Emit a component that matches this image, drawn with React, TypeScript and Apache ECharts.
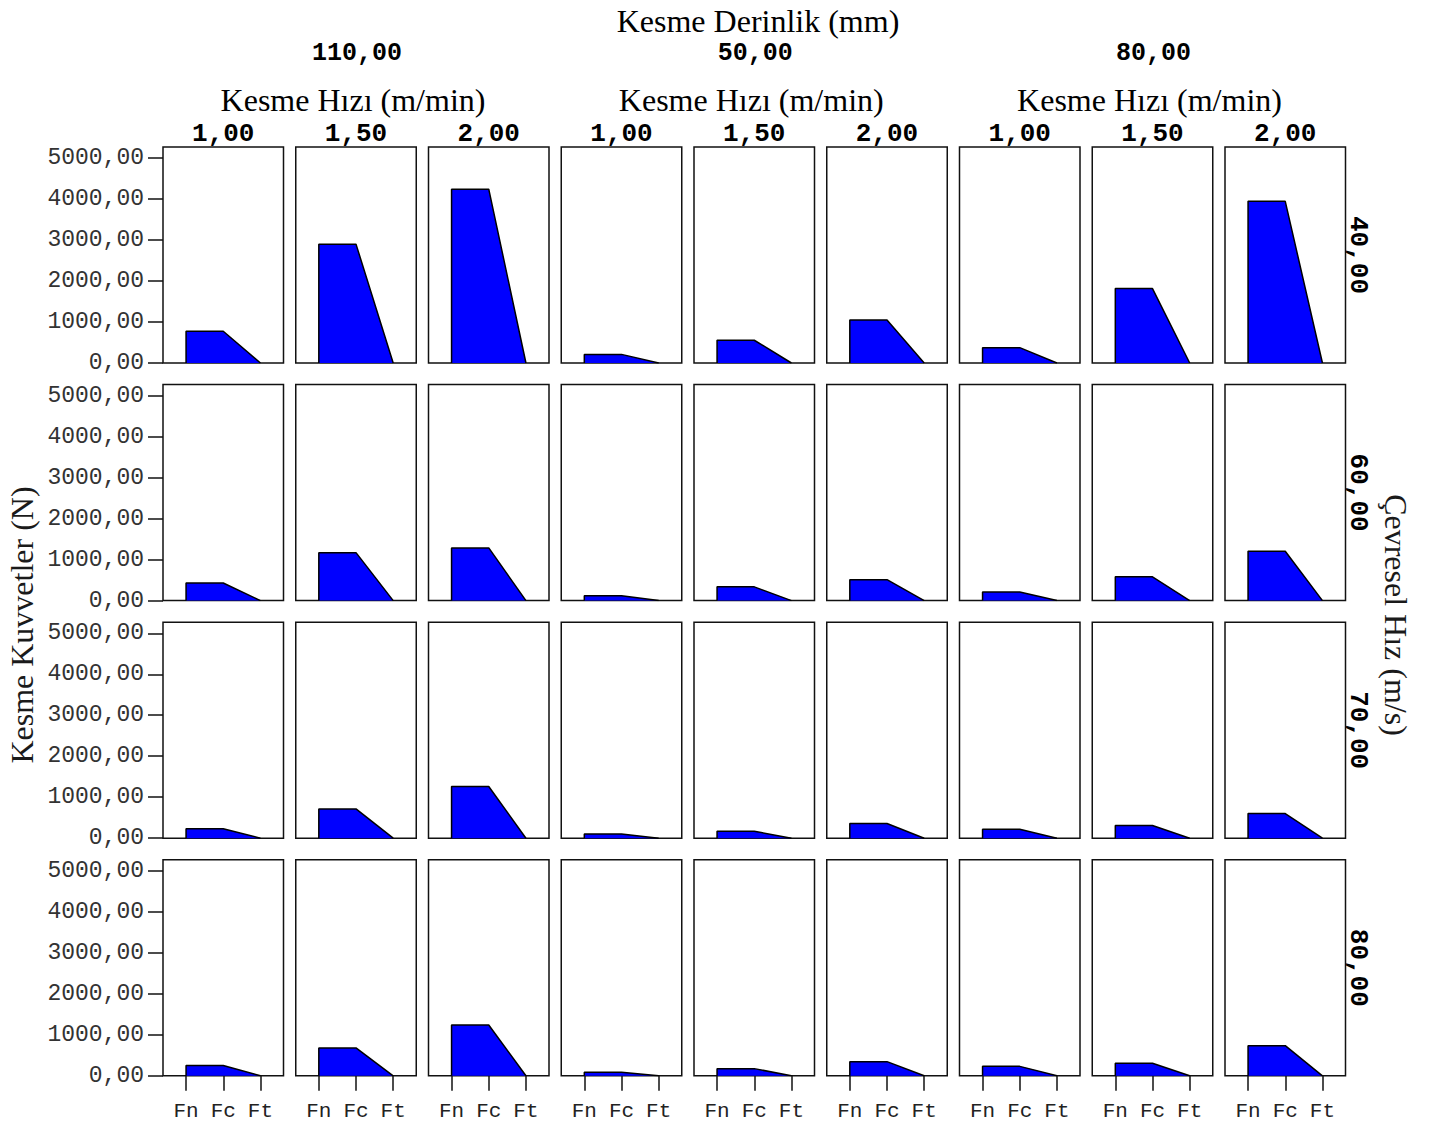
import React, { useEffect, useRef } from "react";
import * as echarts from "echarts";

// ---- data ----
const derinlikGroups = ["110,00", "50,00", "80,00"]; // Kesme Derinlik (mm)
const hizLevels = ["1,00", "1,50", "2,00"]; // Kesme Hızı (m/min)
const cevreselRows = ["40,00", "60,00", "70,00", "80,00"]; // Çevresel Hız (m/s)
const forces = ["Fn", "Fc", "Ft"];
const yTicks = [0, 1000, 2000, 3000, 4000, 5000];
const yTickLabels = ["0,00", "1000,00", "2000,00", "3000,00", "4000,00", "5000,00"];

// values per row (9 panels: 3 depths x 3 speeds)
const fn40 = [775, 2900, 4240, 210, 555, 1050, 375, 1815, 3945];
const fc40 = [775, 2900, 4240, 210, 555, 1050, 375, 1815, 3945];
const ft40 = [0, 0, 0, 0, 0, 0, 0, 0, 0];
const fn60 = [430, 1170, 1285, 120, 335, 510, 210, 580, 1205];
const fc60 = [430, 1170, 1285, 120, 335, 510, 210, 580, 1205];
const ft60 = [0, 0, 0, 0, 0, 0, 0, 0, 0];
const fn70 = [230, 715, 1260, 105, 170, 360, 220, 310, 600];
const fc70 = [230, 715, 1260, 105, 170, 360, 220, 310, 600];
const ft70 = [0, 0, 0, 0, 0, 0, 0, 0, 0];
const fn80 = [250, 680, 1240, 85, 175, 345, 230, 305, 735];
const fc80 = [250, 680, 1240, 85, 175, 345, 230, 305, 735];
const ft80 = [0, 0, 0, 0, 0, 0, 0, 0, 0];

const fnRows = [fn40, fn60, fn70, fn80];
const fcRows = [fc40, fc60, fc70, fc80];
const ftRows = [ft40, ft60, ft70, ft80];

const MONO = "'Liberation Mono', 'Courier New', monospace";
const SERIF = "'Liberation Serif', 'Times New Roman', serif";

export default function App() {
  const ref = useRef<HTMLDivElement>(null);
  useEffect(() => {
    if (!ref.current) return;
    const chart = echarts.init(ref.current, undefined, { renderer: "svg" });
    const colLeft = (c: number) => 163 + c * 132.75;
    const rowTop = (r: number) => 147 + r * 237.6;
    const gw = 120.5;
    const gh = 216;
    const grids: any[] = [];
    const xAxes: any[] = [];
    const yAxes: any[] = [];
    const series: any[] = [];
    const nRows = cevreselRows.length;
    const nCols = derinlikGroups.length * hizLevels.length;
    for (let r = 0; r < nRows; r++) {
      for (let c = 0; c < nCols; c++) {
        const idx = grids.length;
        grids.push({
          left: colLeft(c),
          top: rowTop(r),
          width: gw,
          height: gh,
          show: true,
          borderColor: "#111",
          borderWidth: 1.5,
          backgroundColor: "transparent",
          containLabel: false,
        });
        const bottomRow = r === nRows - 1;
        xAxes.push({
          gridIndex: idx,
          type: "value",
          min: -0.62,
          max: 2.62,
          splitLine: { show: false },
          axisLine: { show: false, onZero: false },
          axisTick: {
            show: bottomRow,
            inside: false,
            customValues: [0, 1, 2],
            length: 15,
            lineStyle: { color: "#111", width: 1.5 },
          },
          axisLabel: {
            show: bottomRow,
            customValues: [0, 1, 2],
            formatter: (v: number) => forces[Math.round(v)] ?? "",
            fontFamily: MONO,
            fontSize: 21,
            color: "#222",
            margin: 25,
          },
        });
        const leftCol = c === 0;
        yAxes.push({
          gridIndex: idx,
          type: "value",
          min: 0,
          max: 5270,
          splitLine: { show: false },
          axisLine: { show: false, onZero: false },
          axisTick: {
            show: leftCol,
            inside: false,
            customValues: yTicks,
            length: 15,
            lineStyle: { color: "#111", width: 1.5 },
          },
          axisLabel: {
            show: leftCol,
            customValues: yTicks,
            formatter: (v: number) => yTickLabels[yTicks.indexOf(v)] ?? "",
            fontFamily: MONO,
            fontSize: 23,
            color: "#333",
            margin: 19,
            padding: [6, 0, 0, 0],
          },
        });
        const fn = fnRows[r][c];
        const fc = fcRows[r][c];
        const ft = ftRows[r][c];
        series.push({
          type: "line",
          xAxisIndex: idx,
          yAxisIndex: idx,
          data: [
            [0, 0],
            [0, fn],
            [1, fc],
            [2, ft],
          ],
          symbol: "none",
          lineStyle: { color: "#000", width: 1.5 },
          areaStyle: { color: "#0000FF", opacity: 1 },
          silent: true,
        });
      }
    }

    const graphics: any[] = [];
    const txt = (
      text: string,
      x: number,
      y: number,
      font: string,
      size: number,
      bold = false,
      rotation = 0,
      color = "#000"
    ) => ({
      type: "text",
      x,
      y,
      rotation,
      silent: true,
      style: {
        text,
        fontFamily: font,
        fontSize: size,
        fontWeight: bold ? "bold" : "normal",
        fill: color,
        align: "center",
        verticalAlign: "middle",
      },
    });
    const centerX = (c: number) => colLeft(c) + gw / 2;
    graphics.push(txt("Kesme Derinlik (mm)", 758, 21, SERIF, 32));
    derinlikGroups.forEach((g, gi) => {
      const cx = centerX(gi * 3 + 1);
      graphics.push(txt(g, cx + 1, 53, MONO, 25, true));
      graphics.push(txt("Kesme Hızı (m/min)", cx - 3, 100, SERIF, 32));
      hizLevels.forEach((h, hi) => {
        graphics.push(txt(h, centerX(gi * 3 + hi), 134, MONO, 26, true));
      });
    });
    cevreselRows.forEach((rl, ri) => {
      graphics.push(txt(rl, 1358, rowTop(ri) + gh / 2, MONO, 26, true, -Math.PI / 2));
    });
    graphics.push(txt("Çevresel Hız (m/s)", 1396, 615, SERIF, 32, false, -Math.PI / 2, "#1a1a1a"));
    graphics.push(txt("Kesme Kuvvetler (N)", 22, 625, SERIF, 32, false, Math.PI / 2, "#1a1a1a"));

    chart.setOption({
      animation: false,
      backgroundColor: "#fff",
      grid: grids,
      xAxis: xAxes,
      yAxis: yAxes,
      series,
      graphic: graphics,
    });
    return () => chart.dispose();
  }, []);
  return (
    <div
      ref={ref}
      style={{ position: "absolute", left: 0, top: 0, width: 1432, height: 1124 }}
    />
  );
}
